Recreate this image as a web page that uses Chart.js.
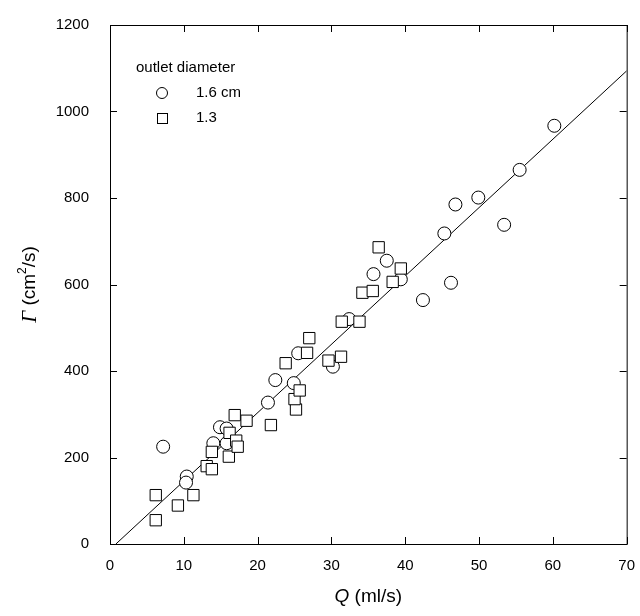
<!DOCTYPE html>
<html>
<head>
<meta charset="utf-8">
<script src="https://cdn.jsdelivr.net/npm/chart.js@4/dist/chart.umd.min.js"></script>
<style>
  html, body { margin: 0; padding: 0; background: #fff; }
  #wrap { width: 640px; height: 616px; }
</style>
</head>
<body>
<div id="wrap"><canvas id="graphe"></canvas></div>
<script>
// donnees : Q (ml/s) et Gamma (cm2/s)
const circleQ = [7.2, 10.4, 10.3, 14.0, 14.9, 15.8, 15.8, 21.4, 22.4, 24.9, 25.5, 30.2, 32.4, 35.7, 37.5, 39.4, 42.4, 45.3, 46.2, 46.8, 49.9, 53.4, 55.5, 60.2];
const circleG = [225, 156, 142, 233, 270, 267, 233, 327, 379, 372, 441, 410, 520, 624, 655, 612, 564, 718, 604, 785, 801, 738, 865, 967];

const squareQ = [6.2, 6.2, 9.2, 11.3, 13.1, 13.8, 13.8, 16.2, 16.1, 17.1, 17.3, 16.9, 18.5, 21.8, 25.2, 25.0, 25.7, 23.8, 26.7, 27.0, 29.6, 31.3, 31.4, 33.8, 34.2, 35.6, 36.4, 38.3, 39.4];
const squareG = [113, 55, 89, 113, 180, 173, 213, 257, 202, 239, 225, 298, 285, 275, 311, 335, 355, 418, 442, 476, 424, 433, 514, 514, 581, 585, 686, 606, 637];

// droite d'ajustement
const fitQ = [0.8, 70];
const fitG = [0, 1094];

const xTicks = [0, 10, 20, 30, 40, 50, 60, 70];
const yTicks = [0, 200, 400, 600, 800, 1000, 1200];

const legendTitle = "outlet diameter";
const legendLabels = ["1.6 cm", "1.3"];

function toPoints(xs, ys) {
    return xs.map(function(x, i) { return { x: x, y: ys[i] }; });
}

const police = "'Liberation Sans', Arial, Helvetica, sans-serif";

// plugin : cadre, graduations internes, titres des axes et legende
const decor = {
    id: 'decor',
    afterDraw(chart) {
        const ctx = chart.ctx;
        const a = chart.chartArea;
        const xs = chart.scales.x;
        const ys = chart.scales.y;
        ctx.save();
        ctx.strokeStyle = '#000';
        ctx.lineWidth = 1;
        ctx.strokeRect(a.left + 0.5, a.top + 0.5, a.right - a.left, a.bottom - a.top);
        const tl = 7;
        ctx.beginPath();
        xTicks.forEach(function(v) {
            const px = Math.round(xs.getPixelForValue(v)) + 0.5;
            ctx.moveTo(px, a.bottom); ctx.lineTo(px, a.bottom - tl);
            ctx.moveTo(px, a.top); ctx.lineTo(px, a.top + tl);
        });
        yTicks.forEach(function(v) {
            const py = Math.round(ys.getPixelForValue(v)) + 0.5;
            ctx.moveTo(a.left, py); ctx.lineTo(a.left + tl, py);
            ctx.moveTo(a.right, py); ctx.lineTo(a.right - tl, py);
        });
        ctx.stroke();

        // titre axe x
        ctx.fillStyle = '#000';
        ctx.textBaseline = 'middle';
        const cx = (a.left + a.right) / 2;
        ctx.font = "italic 19px " + police;
        const q = "Q";
        const reste = " (ml/s)";
        const wq = ctx.measureText(q).width;
        ctx.font = "19px " + police;
        const wr = ctx.measureText(reste).width;
        let x0 = cx - (wq + wr) / 2;
        ctx.textAlign = 'left';
        ctx.font = "italic 19px " + police;
        ctx.fillText(q, x0, 597);
        ctx.font = "19px " + police;
        ctx.fillText(reste, x0 + wq, 597);

        // titre axe y
        ctx.save();
        ctx.translate(30, (a.top + a.bottom) / 2);
        ctx.rotate(-Math.PI / 2);
        const g = "\u0393";
        const p1 = " (cm";
        const sup = "2";
        const p2 = "/s)";
        ctx.font = "italic 21px 'Liberation Serif', 'Times New Roman', serif";
        const wg = ctx.measureText(g).width;
        ctx.font = "19px " + police;
        const w1 = ctx.measureText(p1).width;
        const w2 = ctx.measureText(p2).width;
        ctx.font = "12px " + police;
        const ws = ctx.measureText(sup).width;
        let y0 = -(wg + w1 + ws + w2) / 2;
        ctx.font = "italic 21px 'Liberation Serif', 'Times New Roman', serif";
        ctx.fillText(g, y0, 0);
        ctx.font = "19px " + police;
        ctx.fillText(p1, y0 + wg, 0);
        ctx.font = "12px " + police;
        ctx.fillText(sup, y0 + wg + w1, -7);
        ctx.font = "19px " + police;
        ctx.fillText(p2, y0 + wg + w1 + ws, 0);
        ctx.restore();

        // legende
        ctx.font = "15px " + police;
        ctx.textAlign = 'left';
        ctx.fillText(legendTitle, 136, 68);
        ctx.fillText(legendLabels[0], 196, 93);
        ctx.fillText(legendLabels[1], 196, 118);
        ctx.beginPath();
        ctx.arc(162, 93, 5.5, 0, Math.PI * 2);
        ctx.stroke();
        ctx.strokeRect(157.5, 113.5, 10, 10);
        ctx.restore();
    }
};

window.addEventListener('load', () => {
    const ctx = document.getElementById("graphe").getContext("2d");
    const conData = {
        datasets: [{
            label: "1.3",
            data: toPoints(squareQ, squareG),
            pointStyle: 'rect',
            pointRadius: 8,
            pointBackgroundColor: '#fff',
            pointBorderColor: '#000',
            pointBorderWidth: 1,
            order: 0
        }, {
            label: "1.6 cm",
            data: toPoints(circleQ, circleG),
            pointStyle: 'circle',
            pointRadius: 6.5,
            pointBackgroundColor: '#fff',
            pointBorderColor: '#000',
            pointBorderWidth: 1,
            order: 1
        }, {
            type: 'line',
            label: "fit",
            data: toPoints(fitQ, fitG),
            borderColor: '#000',
            borderWidth: 1,
            pointRadius: 0,
            fill: false,
            order: 2
        }]
    };
    const options = {
        responsive: true,
        maintainAspectRatio: false,
        animation: false,
        layout: { padding: { top: 25, right: 12, left: 0, bottom: 0 } },
        plugins: {
            legend: { display: false },
            tooltip: { enabled: false }
        },
        scales: {
            x: {
                type: 'linear',
                min: 0, max: 70,
                grid: { display: false },
                border: { display: false },
                ticks: {
                    stepSize: 10,
                    padding: 5,
                    color: '#000',
                    font: { family: police, size: 15 },
                    callback: function(v) { return String(v); }
                },
                afterFit: function(s) { s.height = 72; }
            },
            y: {
                type: 'linear',
                min: 0, max: 1200,
                grid: { display: false },
                border: { display: false },
                ticks: {
                    stepSize: 200,
                    padding: 13,
                    color: '#000',
                    font: { family: police, size: 15 },
                    callback: function(v) { return String(v); }
                },
                afterFit: function(s) { s.width = 110; }
            }
        }
    };
    const config = {
        type: 'scatter',
        data: conData,
        options: options,
        plugins: [decor]
    };
    new Chart(ctx, config);
});
</script>
</body>
</html>
